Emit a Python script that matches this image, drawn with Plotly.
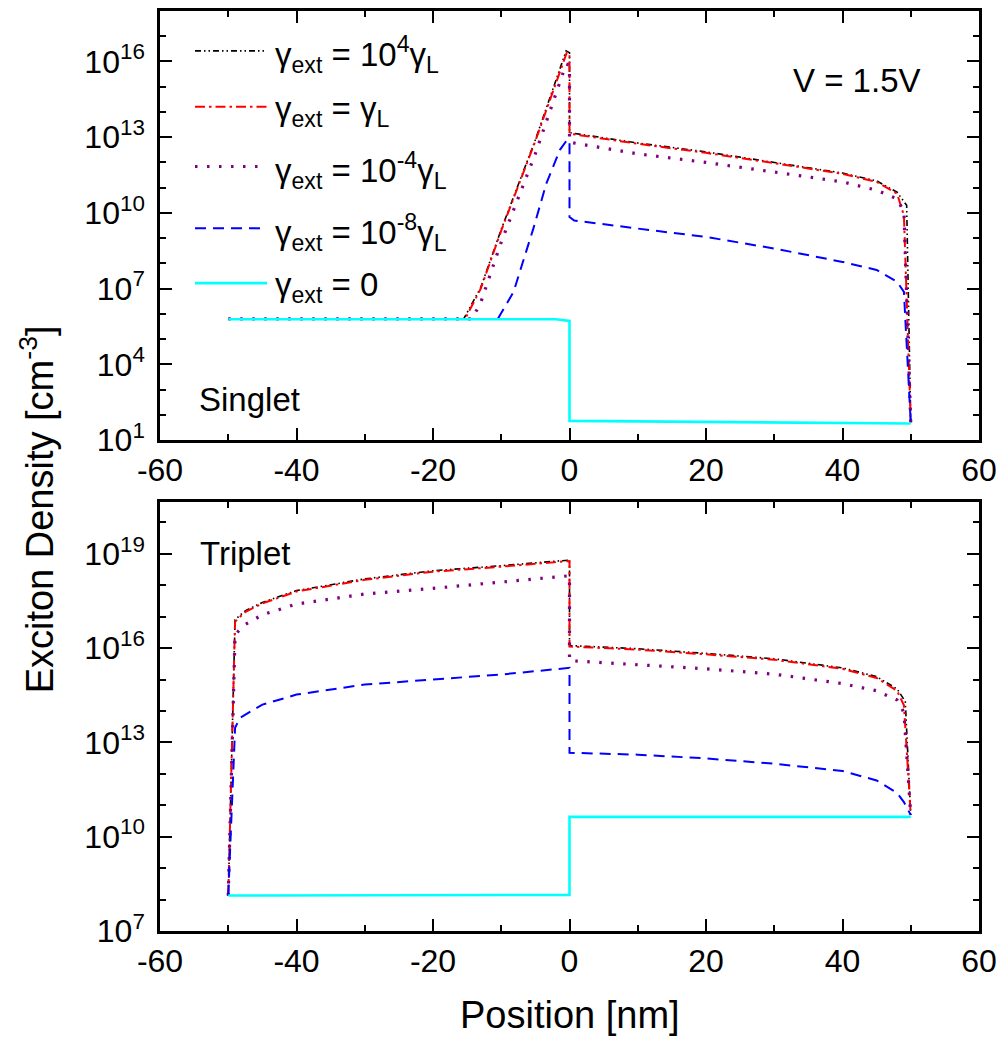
import numpy as np
import plotly.graph_objects as go

# ---------------- data (log10 of exciton density, cm^-3) ----------------
series_names = ["γ<sub>ext</sub> = 10<sup>4</sup>γ<sub>L</sub>",
                "γ<sub>ext</sub> = γ<sub>L</sub>",
                "γ<sub>ext</sub> = 10<sup>-4</sup>γ<sub>L</sub>",
                "γ<sub>ext</sub> = 10<sup>-8</sup>γ<sub>L</sub>",
                "γ<sub>ext</sub> = 0"]

# Singlet (top panel)
s_black_x = [-50, -15.5, -13, -10, -5, -0.5, 0, 0, 10, 20, 30, 40, 45, 48, 49.4, 50]
s_black_log = [5.80, 5.80, 7.05, 9.35, 12.9, 16.42, 16.35, 13.18, 12.77, 12.42, 12.0, 11.58, 11.27, 10.82, 10.3, 1.70]
s_red_x = [-50, -15.3, -13, -10, -5, -0.4, 0, 0, 10, 20, 30, 40, 45, 48, 49, 50]
s_red_log = [5.80, 5.80, 7.0, 9.3, 12.85, 16.35, 16.3, 13.14, 12.74, 12.38, 11.97, 11.55, 11.23, 10.76, 9.9, 1.70]
s_purple_x = [-50, -14.3, -13, -10, -5, -0.5, 0, 0, 10, 20, 30, 40, 45, 48, 49, 50]
s_purple_log = [5.80, 5.80, 6.45, 8.85, 12.35, 15.9, 15.85, 12.8, 12.34, 12.0, 11.62, 11.23, 10.9, 10.56, 10.04, 1.70]
s_blue_x = [-50, -10.5, -8.2, -5.3, -3.4, -1.4, -0.4, 0, 0, 0.7, 10, 20, 30, 40, 45, 48, 49, 50]
s_blue_log = [5.80, 5.80, 6.87, 9.38, 11.16, 12.5, 12.88, 12.88, 9.84, 9.70, 9.38, 9.05, 8.59, 8.06, 7.74, 7.27, 6.87, 1.70]
s_cyan_x = [-50, -2, 0, 0, 10, 50]
s_cyan_log = [5.79, 5.79, 5.72, 1.76, 1.74, 1.66]

# Triplet (bottom panel)
t_black_x = [-50, -49, -48, -47.4, -45, -40, -30, -20, -10, 0, 0, 10, 20, 30, 40, 45, 48, 49.2, 50]
t_black_log = [8.13, 16.9, 17.1, 17.2, 17.45, 17.83, 18.2, 18.46, 18.62, 18.8, 16.08, 15.98, 15.83, 15.66, 15.37, 15.09, 14.7, 14.3, 10.69]
t_red_x = [-50, -49, -48, -47.4, -45, -40, -30, -20, -10, 0, 0, 10, 20, 30, 40, 45, 48, 49, 50]
t_red_log = [8.13, 16.84, 17.05, 17.16, 17.42, 17.8, 18.17, 18.43, 18.59, 18.77, 16.05, 15.95, 15.8, 15.63, 15.34, 15.05, 14.64, 14.18, 10.69]
t_purple_x = [-50, -49, -47.5, -45, -40, -30, -20, -10, 0, 0, 10, 20, 30, 40, 45, 48, 49, 50]
t_purple_log = [8.13, 16.43, 16.75, 17.06, 17.4, 17.72, 17.9, 18.11, 18.3, 15.6, 15.46, 15.34, 15.17, 14.87, 14.64, 14.35, 13.95, 10.69]
t_blue_x = [-50, -49, -48.3, -45, -40, -30, -20, -10, 0, 0, 10, 20, 30, 40, 45, 48, 49, 50]
t_blue_log = [8.13, 13.46, 13.78, 14.2, 14.52, 14.84, 15.0, 15.16, 15.37, 12.67, 12.61, 12.49, 12.32, 12.09, 11.79, 11.39, 11.1, 10.69]
t_cyan_x = [-50, 0, 0, 50]
t_cyan_log = [8.13, 8.15, 10.63, 10.63]

x_ticks = [-60, -40, -20, 0, 20, 40, 60]
x_minor = [-50, -30, -10, 10, 30, 50]
y1_tick_exp = [1, 4, 7, 10, 13, 16]
y2_tick_exp = [7, 10, 13, 16, 19]

# ---------------- styling ----------------
colors = ["#000000", "#FF0000", "#800080", "#0000FF", "#00FFFF"]
dashes = ["6px,3px,1.5px,3px,1.5px,3px", "10px,4px,2.5px,4px", "2.5px,9.5px", "11px,7px", "solid"]
widths = [1.6, 2.0, 3.2, 2.0, 2.6]
FONT = "Liberation Sans, Arial, Helvetica, sans-serif"

fig = go.Figure()
singlet = [(s_black_x, s_black_log), (s_red_x, s_red_log), (s_purple_x, s_purple_log),
           (s_blue_x, s_blue_log), (s_cyan_x, s_cyan_log)]
triplet = [(t_black_x, t_black_log), (t_red_x, t_red_log), (t_purple_x, t_purple_log),
           (t_blue_x, t_blue_log), (t_cyan_x, t_cyan_log)]
for i, (xs, ls) in enumerate(singlet):
    fig.add_trace(go.Scatter(x=xs, y=10.0 ** np.array(ls), mode="lines", name=series_names[i],
                             line=dict(color=colors[i], dash=dashes[i], width=widths[i]),
                             xaxis="x", yaxis="y", showlegend=False))
for i, (xs, ls) in enumerate(triplet):
    fig.add_trace(go.Scatter(x=xs, y=10.0 ** np.array(ls), mode="lines", name=series_names[i],
                             line=dict(color=colors[i], dash=dashes[i], width=widths[i]),
                             xaxis="x2", yaxis="y2", showlegend=False))

# plot area in pixels
L, R, T, B = 160, 979, 8, 931
W, H = 1005, 1044
def px(xp):
    return (xp - L) / (R - L)
def py(yp):
    return (B - yp) / (B - T)

axis_common = dict(showline=True, linecolor="black", linewidth=2.5, mirror="allticks",
                   ticks="inside", ticklen=12, tickwidth=2, tickcolor="black",
                   showgrid=False, zeroline=False,
                   tickfont=dict(family=FONT, size=32, color="black"))
xaxis_common = dict(axis_common, range=[-60, 60], tickmode="array", tickvals=x_ticks,
                    ticktext=[str(v) for v in x_ticks],
                    minor=dict(tickvals=x_minor, ticks="inside", ticklen=6, tickwidth=2, tickcolor="black"))

def ylog(exps, rng):
    lo, hi = int(np.floor(rng[0])), int(np.ceil(rng[1]))
    minor_v = [10.0 ** k for k in range(lo, hi + 1) if k not in exps]
    return dict(axis_common, type="log", range=rng, tickmode="array",
                tickvals=[10.0 ** e for e in exps],
                ticktext=["10<sup>%d</sup>" % e for e in exps],
                ticklabelstandoff=6,
                minor=dict(tickvals=minor_v, ticks="inside", ticklen=6, tickwidth=2, tickcolor="black"))

top_lo = py(438.5)
bot_hi = py(500.5)
fig.update_layout(
    width=W, height=H,
    margin=dict(l=L, r=W - R, t=T, b=H - B),
    paper_bgcolor="white", plot_bgcolor="white",
    font=dict(family=FONT, color="black"),
    xaxis=dict(xaxis_common, domain=[0, 1], anchor="y"),
    yaxis=dict(ylog(y1_tick_exp, [1, 18]), domain=[top_lo, 1], anchor="x"),
    xaxis2=dict(xaxis_common, domain=[0, 1], anchor="y2"),
    yaxis2=dict(ylog(y2_tick_exp, [7, 20.65]), domain=[0, bot_hi], anchor="x2"),
)

ann = []
ann.append(dict(text="Position [nm]", x=0.5, y=py(1015), xref="paper", yref="paper",
                showarrow=False, xanchor="center", yanchor="middle",
                font=dict(family=FONT, size=38, color="black")))
ann.append(dict(text="Exciton Density [cm<sup>-3</sup>]", x=px(37), y=py(508), xref="paper", yref="paper",
                showarrow=False, xanchor="center", yanchor="middle", textangle=-90,
                font=dict(family=FONT, size=38, color="black")))
ann.append(dict(text="V = 1.5V", x=px(857), y=py(78), xref="paper", yref="paper",
                showarrow=False, xanchor="center", yanchor="middle",
                font=dict(family=FONT, size=33, color="black")))
ann.append(dict(text="Singlet", x=px(197), y=py(398), xref="paper", yref="paper",
                showarrow=False, xanchor="left", yanchor="middle",
                font=dict(family=FONT, size=33, color="black")))
ann.append(dict(text="Triplet", x=px(198), y=py(552), xref="paper", yref="paper",
                showarrow=False, xanchor="left", yanchor="middle",
                font=dict(family=FONT, size=33, color="black")))

# legend (samples + labels)
leg_y = [48, 104, 164, 226, 281]
shapes = []
for i, yy in enumerate(leg_y):
    shapes.append(dict(type="line", xref="paper", yref="paper",
                       x0=px(195), x1=px(267), y0=py(yy), y1=py(yy),
                       line=dict(color=colors[i], dash=dashes[i], width=widths[i])))
    ann.append(dict(text=series_names[i], x=px(273), y=py(yy + 4), xref="paper", yref="paper",
                    showarrow=False, xanchor="left", yanchor="middle",
                    font=dict(family=FONT, size=33, color="black")))

fig.update_layout(annotations=ann, shapes=shapes)
fig.write_html("out.html")
